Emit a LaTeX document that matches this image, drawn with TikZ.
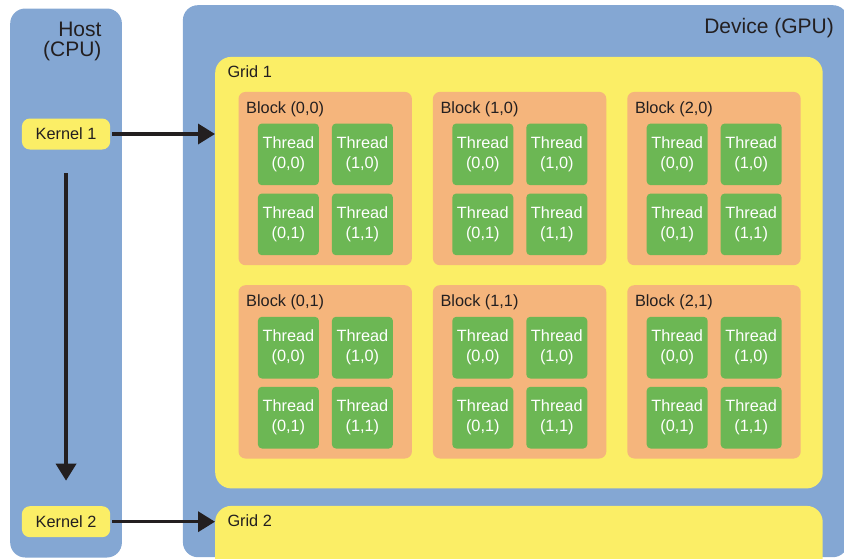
\documentclass[tikz,border=0pt]{standalone}
\usepackage{fontspec}
\setmainfont{Liberation Sans}
\usetikzlibrary{arrows.meta,positioning}
\definecolor{cudablue}{HTML}{84A7D3}
\definecolor{cudayellow}{HTML}{FBEE66}
\definecolor{cudaorange}{HTML}{F5B57C}
\definecolor{cudagreen}{HTML}{6CB754}
\definecolor{cudaink}{HTML}{231F20}
\tikzset{
  panel/.style={
    rounded corners=15pt,
    fill=cudablue,
    inner sep=0pt,
    anchor=north west
  },
  gridbox/.style={
    rounded corners=16pt,
    fill=cudayellow,
    inner sep=0pt,
    minimum width=607.5pt,
    anchor=north west
  },
  blockbox/.style={
    rounded corners=7pt,
    fill=cudaorange,
    inner sep=0pt,
    minimum width=173.4pt,
    minimum height=173.3pt,
    anchor=north west
  },
  threadbox/.style={
    rounded corners=4pt,
    fill=cudagreen,
    inner sep=0pt,
    minimum width=61pt,
    minimum height=61.7pt,
    anchor=north west,
    align=center,
    text=white,
    font=\fontsize{16.3}{20}\selectfont
  },
  kernelbox/.style={
    rounded corners=8pt,
    fill=cudayellow,
    inner sep=0pt,
    minimum width=88.3pt,
    minimum height=31pt,
    anchor=north west,
    text=cudaink,
    font=\fontsize{16.3}{20}\selectfont
  },
  tag/.style={
    inner sep=0pt,
    text=cudaink,
    font=\fontsize{16.3}{20}\selectfont
  },
  title/.style={
    inner sep=0pt,
    text=cudaink,
    font=\fontsize{21}{20}\selectfont
  },
  arrow/.style={
    -{Triangle[length=17pt,width=20pt]},
    line width=3.5pt,
    draw=cudaink
  }
}
\begin{document}
\begin{tikzpicture}[x=1pt, y=-1pt]
\useasboundingbox (0,0) rectangle (844,558);
\clip (0,0) rectangle (844,558);
% host and device
\node[panel, minimum width=111.7pt, minimum height=549pt] (host) at (10,8.3) {};
\node[panel, minimum width=665pt, minimum height=552pt] (device) at (182.7,5) {};
\node[title, anchor=base east, align=right] (hostname) at (101.7,56.7) {Host\\(CPU)};
\node[title, anchor=base east] (devicename) at (834,33) {Device (GPU)};
% grids
\node[gridbox, minimum height=431.5pt] (grid1) at (215,56.7) {};
\node[gridbox, minimum height=100pt] (grid2) at (215,505.7) {};
\node[tag, anchor=base west] (grid1name) at ([shift={(12.3,21)}]grid1.north west) {Grid 1};
\node[tag, anchor=base west] (grid2name) at ([shift={(12.3,20.3)}]grid2.north west) {Grid 2};
% blocks of threads
\foreach \i in {0,1,2}
  \foreach \j in {0,1} {
    \node[blockbox] (b\i\j) at (238.3+194.4*\i, 91.7+193.3*\j) {};
    \node[tag, anchor=base west] (b\i\j name) at ([shift={(7.7,21.6)}]b\i\j.north west) {Block (\i,\j)};
    \foreach \a in {0,1}
      \foreach \b in {0,1}
        \node[threadbox] (t\i\j\a\b) at ([shift={(19.4+74*\a, 31.6+70*\b)}]b\i\j.north west) {Thread\\(\a,\b)};
  }
% kernels
\node[kernelbox] (k1) at (21.7,118.3) {Kernel 1};
\node[kernelbox] (k2) at (21.7,506) {Kernel 2};
\draw[arrow, shorten <=1.7pt] (k1.east) -- (k1.east -| grid1.west);
\draw[arrow, shorten <=1.7pt] (k2.east) -- (k2.east -| grid2.west);
\draw[arrow, shorten <=23.4pt, shorten >=25.3pt] (k1.south) -- (k2.north);
\end{tikzpicture}
\end{document}
